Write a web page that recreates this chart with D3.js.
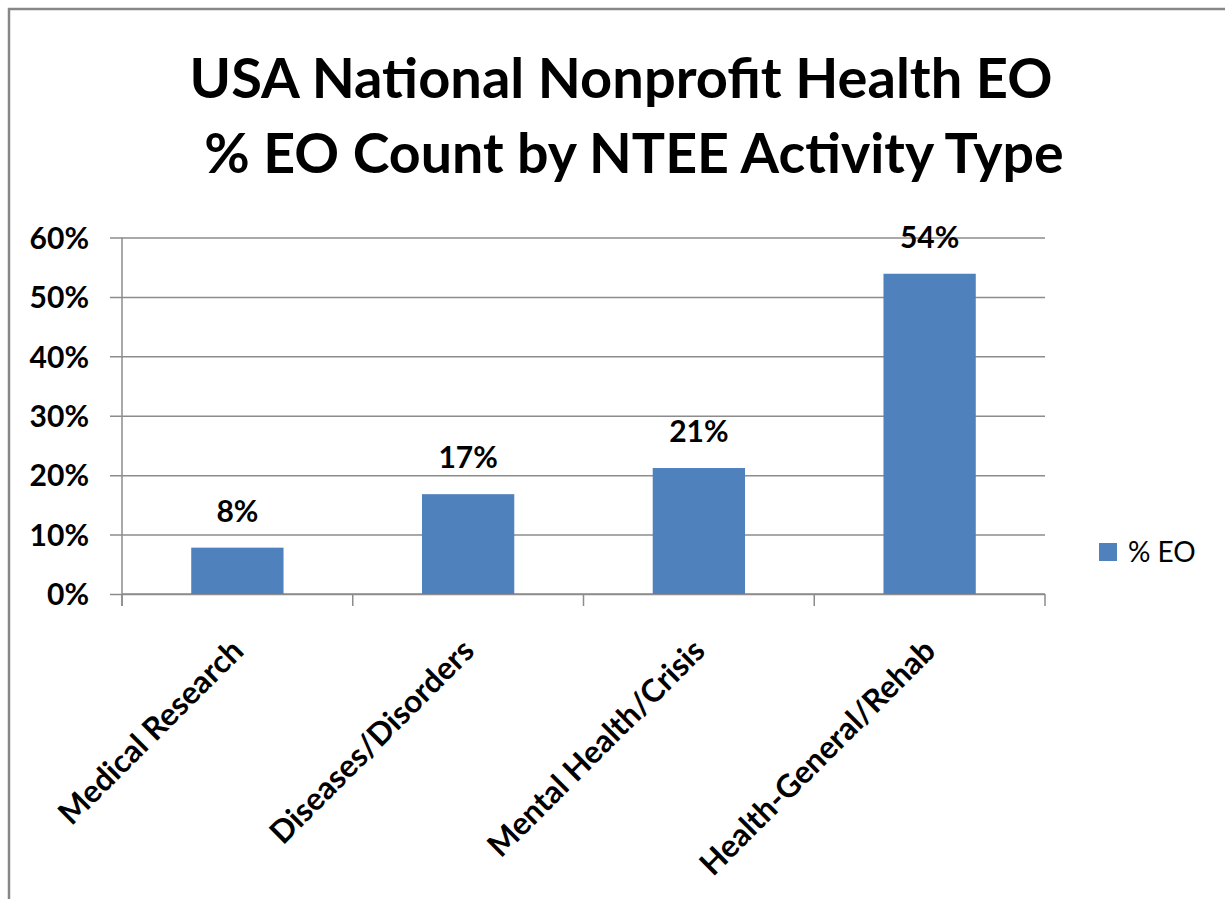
<!DOCTYPE html>
<html>
<head>
<meta charset="utf-8">
<script src="https://cdn.jsdelivr.net/npm/d3@7"></script>
<style>
  html, body { margin: 0; padding: 0; background: #fff; }
  svg { display: block; }
  text { font-family: Lato, "Open Sans", sans-serif; fill: #000; }
</style>
</head>
<body>
<svg id="chart" width="1225" height="899"></svg>
<script>
// ---- data ----
const categories = ["Medical Research", "Diseases/Disorders", "Mental Health/Crisis", "Health-General/Rehab"];
const values = [0.078, 0.168, 0.212, 0.539];
const valueLabels = ["8%", "17%", "21%", "54%"];
const yTicks = [0, 0.1, 0.2, 0.3, 0.4, 0.5, 0.6];
const titleLines = ["USA National Nonprofit Health EO", "% EO Count by NTEE Activity Type"];
const seriesName = "% EO";

// ---- layout ----
const svg = d3.select("#chart");
const W = 1225, H = 899;
const plot = { left: 122, right: 1045, top: 237.5, bottom: 594 };
const barColor = "#4F81BD";
const gridColor = "#8C8C8C";

// outer border
svg.append("rect")
  .attr("x", 9).attr("y", 9)
  .attr("width", W + 40).attr("height", H + 40)
  .attr("fill", "none").attr("stroke", "#878787").attr("stroke-width", 2.5);

// title
svg.append("text").attr("x", 621).attr("y", 98)
  .attr("text-anchor", "middle").attr("font-weight", "bold").attr("font-size", 56)
  .text(titleLines[0]);
svg.append("text").attr("x", 634).attr("y", 173)
  .attr("text-anchor", "middle").attr("font-weight", "bold").attr("font-size", 55.5)
  .text(titleLines[1]);

const x = d3.scaleBand().domain(categories).range([plot.left, plot.right]).paddingInner(0.6).paddingOuter(0.3);
const y = d3.scaleLinear().domain([0, 0.6]).range([plot.bottom, plot.top]);

// gridlines + y axis
const yAxis = d3.axisLeft(y).tickValues(yTicks).tickFormat(d3.format(".0%"))
  .tickSize(-(plot.right - plot.left)).tickPadding(20);
const gy = svg.append("g").attr("transform", `translate(${plot.left},0)`).call(yAxis);
gy.select(".domain").remove();
gy.selectAll(".tick line").attr("x1", -12).attr("stroke", gridColor).attr("stroke-width", 1.5);
gy.selectAll(".tick text").attr("font-size", 30).attr("font-weight", "bold")
  .attr("font-family", "Lato, sans-serif").attr("fill", "#000").attr("x", -33).attr("dy", "0.36em");

// y axis line
svg.append("line").attr("x1", plot.left).attr("x2", plot.left)
  .attr("y1", plot.top).attr("y2", plot.bottom + 12)
  .attr("stroke", gridColor).attr("stroke-width", 1.5);

// x axis line + category boundary ticks
svg.append("line").attr("x1", plot.left).attr("x2", plot.right)
  .attr("y1", plot.bottom).attr("y2", plot.bottom)
  .attr("stroke", gridColor).attr("stroke-width", 1.5);
const boundaries = d3.range(categories.length + 1).map(i => plot.left + i * (plot.right - plot.left) / categories.length);
svg.append("g").selectAll("line").data(boundaries).join("line")
  .attr("x1", d => d).attr("x2", d => d)
  .attr("y1", plot.bottom).attr("y2", plot.bottom + 12)
  .attr("stroke", gridColor).attr("stroke-width", 1.5);

// bars
svg.append("g").selectAll("rect").data(values).join("rect")
  .attr("x", (d, i) => x(categories[i]))
  .attr("width", x.bandwidth())
  .attr("y", d => y(d))
  .attr("height", d => y(0) - y(d))
  .attr("fill", barColor);

// value labels
svg.append("g").selectAll("text").data(values).join("text")
  .attr("x", (d, i) => x(categories[i]) + x.bandwidth() / 2)
  .attr("y", d => y(d) - 26)
  .attr("text-anchor", "middle").attr("font-weight", "bold").attr("font-size", 30)
  .text((d, i) => valueLabels[i]);

// category labels, rotated -45
svg.append("g").selectAll("text").data(categories).join("text")
  .attr("transform", d => `translate(${x(d) + x.bandwidth() / 2 - 8},${plot.bottom + 43}) rotate(-45)`)
  .attr("text-anchor", "end").attr("dy", "0.71em")
  .attr("font-weight", "bold").attr("font-size", 31.5)
  .text(d => d);

// legend
svg.append("rect").attr("x", 1099).attr("y", 543).attr("width", 18).attr("height", 18).attr("fill", barColor);
svg.append("text").attr("x", 1128).attr("y", 562).attr("font-size", 28).text(seriesName);
</script>
</body>
</html>
